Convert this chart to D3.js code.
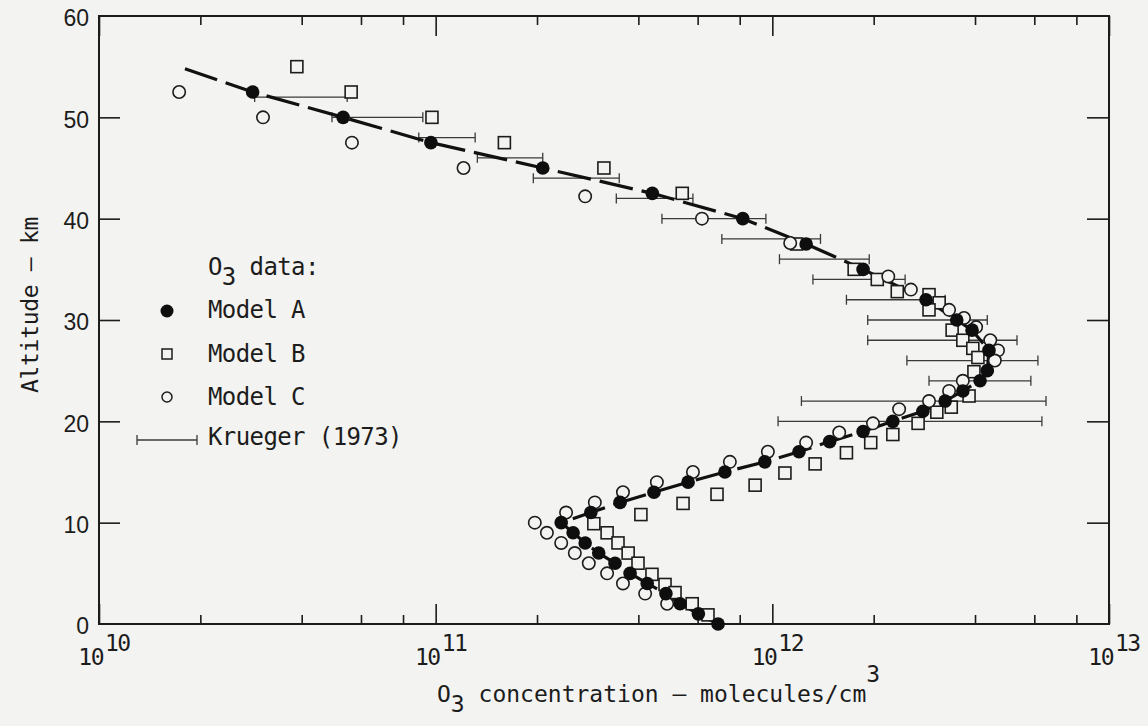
<!DOCTYPE html>
<html>
<head>
<meta charset="utf-8">
<script src="https://cdn.jsdelivr.net/npm/d3@7/dist/d3.min.js"></script>
<style>
  html, body { margin: 0; padding: 0; background: #f3f3f1; }
  svg { display: block; }
  .mono { font-family: "DejaVu Sans Mono", monospace; fill: #1c1c1c; }
  .sans { font-family: "Liberation Sans", Arial, sans-serif; fill: #1c1c1c; }
</style>
</head>
<body>
<svg id="chart" width="1148" height="726"></svg>
<script>
// [altitude km, O3 concentration molecules/cm^3]
var modelA = [
  [52.5, 2.86e10], [50, 5.31e10], [47.5, 9.68e10], [45, 2.08e11], [42.5, 4.40e11],
  [40, 8.17e11], [37.5, 1.26e12], [35, 1.86e12], [32, 2.86e12], [30, 3.53e12],
  [29, 3.92e12], [27, 4.40e12], [25, 4.35e12], [24, 4.14e12], [23, 3.68e12],
  [22, 3.26e12], [21, 2.80e12], [20, 2.28e12], [19, 1.86e12], [18, 1.48e12],
  [17, 1.20e12], [16, 9.5e11], [15, 7.23e11], [14, 5.62e11], [13, 4.45e11],
  [12, 3.53e11], [11, 2.89e11], [10, 2.36e11], [9, 2.56e11], [8, 2.78e11],
  [7, 3.05e11], [6, 3.41e11], [5, 3.78e11], [4, 4.25e11], [3, 4.83e11],
  [2, 5.32e11], [1, 6.03e11], [0, 6.90e11]
];
// the dashed curve runs a little past the top model A point
var curveTop = [54.8, 1.80e10];

var modelB = [
  [55, 3.87e10], [52.5, 5.61e10], [50, 9.75e10], [47.5, 1.60e11], [45, 3.16e11],
  [42.5, 5.40e11], [37.5, 1.18e12], [35, 1.75e12], [34, 2.05e12], [32.8, 2.35e12],
  [32.5, 2.92e12], [31.7, 3.13e12], [31, 2.92e12], [29, 3.42e12], [28, 3.68e12],
  [27.2, 3.94e12], [26.3, 4.08e12], [24.9, 3.97e12], [22.5, 3.84e12], [21.4, 3.40e12],
  [20.9, 3.08e12], [19.8, 2.71e12], [18.7, 2.28e12], [17.9, 1.96e12], [16.9, 1.66e12],
  [15.8, 1.34e12], [14.9, 1.09e12], [13.7, 8.89e11], [12.8, 6.85e11], [11.9, 5.43e11],
  [10.8, 4.07e11], [9.9, 2.95e11], [9, 3.23e11], [8, 3.48e11], [7, 3.73e11],
  [6, 3.99e11], [4.9, 4.39e11], [3.9, 4.80e11], [3.1, 5.14e11], [2, 5.78e11],
  [0.9, 6.44e11]
];

var modelC = [
  [52.5, 1.73e10], [50, 3.07e10], [47.5, 5.64e10], [45, 1.21e11], [42.2, 2.78e11],
  [40, 6.18e11], [37.6, 1.13e12], [34.3, 2.21e12], [33, 2.58e12], [31, 3.35e12],
  [30.2, 3.71e12], [29.3, 4.03e12], [28, 4.44e12], [27, 4.68e12], [26, 4.58e12],
  [24, 3.68e12], [23, 3.35e12], [22, 2.92e12], [21.2, 2.38e12], [19.8, 1.99e12],
  [18.9, 1.58e12], [17.9, 1.26e12], [17, 9.7e11], [16, 7.48e11], [15, 5.81e11],
  [14, 4.54e11], [13, 3.60e11], [12, 2.97e11], [11, 2.44e11], [10, 1.97e11],
  [9, 2.14e11], [8, 2.36e11], [7, 2.59e11], [6, 2.85e11], [5, 3.23e11],
  [4, 3.60e11], [3, 4.19e11], [2, 4.87e11]
];

// Krueger (1973): [altitude, low, high]
var krueger = [
  [52, 2.90e10, 5.46e10], [50, 4.92e10, 9.16e10], [48, 8.91e10, 1.31e11],
  [46, 1.33e11, 2.08e11], [44, 1.95e11, 3.51e11], [42, 3.44e11, 5.81e11],
  [40, 4.70e11, 9.57e11], [38, 7.08e11, 1.39e12], [36, 1.05e12, 1.94e12],
  [34, 1.32e12, 2.48e12], [32, 1.66e12, 3.26e12], [30, 1.92e12, 4.35e12],
  [28, 1.92e12, 5.33e12], [26, 2.51e12, 6.15e12], [24, 2.92e12, 5.86e12],
  [22, 1.22e12, 6.50e12], [20, 1.04e12, 6.32e12]
];

var xMajor = [1e10, 1e11, 1e12, 1e13];
var xMajorExp = ["10", "11", "12", "13"];
var xMinor = [2e10, 4e10, 6e10, 8e10, 2e11, 4e11, 6e11, 8e11, 2e12, 4e12, 6e12, 8e12];
var yTicks = [0, 10, 20, 30, 40, 50, 60];
var legendItems = ["Model A", "Model B", "Model C", "Krueger (1973)"];

var plotL = 99, plotR = 1109, plotT = 16, plotB = 624;
var ink = "#1c1c1c", paper = "#f3f3f1";

var svg = d3.select("#chart");

var x = d3.scaleLog().domain([1e10, 1e13]).range([plotL, plotR]);
var y = d3.scaleLinear().domain([0, 60]).range([plotB, plotT]);

// frame
svg.append("rect")
    .attr("x", plotL).attr("y", plotT)
    .attr("width", plotR - plotL).attr("height", plotB - plotT)
    .attr("fill", "none").attr("stroke", ink).attr("stroke-width", 2);

function tidy(g) {
    g.select(".domain").remove();
    g.selectAll(".tick line").attr("stroke", ink).attr("stroke-width", 1.6);
}

// x ticks, all pointing into the plot
svg.append("g").attr("transform", "translate(0," + plotB + ")")
    .call(d3.axisBottom(x).tickValues(xMajor).tickSize(-20).tickFormat(""))
    .call(tidy);
svg.append("g").attr("transform", "translate(0," + plotB + ")")
    .call(d3.axisBottom(x).tickValues(xMinor).tickSize(-9).tickFormat(""))
    .call(tidy);
svg.append("g").attr("transform", "translate(0," + plotT + ")")
    .call(d3.axisTop(x).tickValues(xMajor).tickSize(-20).tickFormat(""))
    .call(tidy);
svg.append("g").attr("transform", "translate(0," + plotT + ")")
    .call(d3.axisTop(x).tickValues(xMinor).tickSize(-9).tickFormat(""))
    .call(tidy);

// y ticks
var yl = svg.append("g").attr("transform", "translate(" + plotL + ",0)")
    .call(d3.axisLeft(y).tickValues(yTicks).tickSize(-21).tickPadding(10))
    .call(tidy);
yl.selectAll(".tick text")
    .attr("class", "sans").attr("font-size", 23).attr("dy", "0.42em");
yl.selectAll(".tick").filter(function (d) { return d === 0 || d === 60; })
    .select("line").remove();
svg.append("g").attr("transform", "translate(" + plotR + ",0)")
    .call(d3.axisRight(y).tickValues(yTicks.slice(1, -1)).tickSize(-22).tickFormat(""))
    .call(tidy);

// x tick labels: 10 with the exponent raised
var xl = svg.append("g").selectAll("g").data(xMajor).enter().append("g")
    .attr("transform", function (d) { return "translate(" + x(d) + "," + 665 + ")"; });
xl.append("text").attr("class", "mono").attr("font-size", 23)
    .attr("letter-spacing", -1.5).attr("text-anchor", "end").attr("x", 4)
    .text("10");
xl.append("text").attr("class", "mono").attr("font-size", 23)
    .attr("letter-spacing", -1.5).attr("x", 6).attr("y", -14)
    .text(function (d, i) { return xMajorExp[i]; });

// axis titles
var xt = svg.append("text").attr("class", "mono").attr("font-size", 23)
    .attr("letter-spacing", 0)
    .attr("x", 437).attr("y", 702);
xt.append("tspan").text("O");
xt.append("tspan").attr("dy", 10).text("3");
xt.append("tspan").attr("dy", -10).text(" concentration \u2014 molecules/cm");
xt.append("tspan").attr("dy", -20).text("3");

svg.append("text").attr("class", "mono").attr("font-size", 23)
    .attr("letter-spacing", -0.3).attr("text-anchor", "middle")
    .attr("transform", "translate(38,305) rotate(-90)")
    .text("Altitude \u2014 km");

// Krueger error bars
var bars = svg.append("g").attr("stroke", "#3a3a3a").attr("stroke-width", 1.3);
bars.selectAll("line.bar").data(krueger).enter().append("line")
    .attr("x1", function (d) { return x(d[1]); })
    .attr("x2", function (d) { return x(d[2]); })
    .attr("y1", function (d) { return y(d[0]); })
    .attr("y2", function (d) { return y(d[0]); });
bars.selectAll("line.capl").data(krueger).enter().append("line")
    .attr("x1", function (d) { return x(d[1]); })
    .attr("x2", function (d) { return x(d[1]); })
    .attr("y1", function (d) { return y(d[0]) - 5; })
    .attr("y2", function (d) { return y(d[0]) + 5; });
bars.selectAll("line.caph").data(krueger).enter().append("line")
    .attr("x1", function (d) { return x(d[2]); })
    .attr("x2", function (d) { return x(d[2]); })
    .attr("y1", function (d) { return y(d[0]) - 5; })
    .attr("y2", function (d) { return y(d[0]) + 5; });

// dashed curve through model A
var curve = [curveTop].concat(modelA);
var line = d3.line()
    .x(function (d) { return x(d[1]); })
    .y(function (d) { return y(d[0]); });
svg.append("path").datum(curve)
    .attr("d", line)
    .attr("fill", "none").attr("stroke", "#111")
    .attr("stroke-width", 3.2)
    .attr("stroke-dasharray", "34,9");

// markers
svg.append("g").selectAll("rect").data(modelB).enter().append("rect")
    .attr("x", function (d) { return x(d[1]) - 6; })
    .attr("y", function (d) { return y(d[0]) - 6; })
    .attr("width", 12).attr("height", 12)
    .attr("fill", paper).attr("stroke", ink).attr("stroke-width", 1.6);

svg.append("g").selectAll("circle").data(modelC).enter().append("circle")
    .attr("cx", function (d) { return x(d[1]); })
    .attr("cy", function (d) { return y(d[0]); })
    .attr("r", 6.2)
    .attr("fill", paper).attr("stroke", ink).attr("stroke-width", 1.6);

svg.append("g").selectAll("circle").data(modelA).enter().append("circle")
    .attr("cx", function (d) { return x(d[1]); })
    .attr("cy", function (d) { return y(d[0]); })
    .attr("r", 6.8)
    .attr("fill", "#0e0e0e");

// legend
var lg = svg.append("g");
var lt = lg.append("text").attr("class", "mono").attr("font-size", 24)
    .attr("letter-spacing", -0.6).attr("x", 208).attr("y", 275);
lt.append("tspan").text("O");
lt.append("tspan").attr("dy", 10).text("3");
lt.append("tspan").attr("dy", -10).text(" data:");

var rowY = [318, 362, 405, 445];
lg.selectAll("text.item").data(legendItems).enter().append("text")
    .attr("class", "mono").attr("font-size", 24).attr("letter-spacing", -0.6)
    .attr("x", 208).attr("y", function (d, i) { return rowY[i]; })
    .text(function (d) { return d; });

lg.append("circle").attr("cx", 167).attr("cy", 311).attr("r", 6.5).attr("fill", "#0e0e0e");
lg.append("rect").attr("x", 162).attr("y", 349).attr("width", 10).attr("height", 10)
    .attr("fill", "none").attr("stroke", ink).attr("stroke-width", 1.5);
lg.append("circle").attr("cx", 167).attr("cy", 397).attr("r", 5)
    .attr("fill", "none").attr("stroke", ink).attr("stroke-width", 1.5);
var lb = lg.append("g").attr("stroke", "#3a3a3a").attr("stroke-width", 1.3);
lb.append("line").attr("x1", 137).attr("x2", 197).attr("y1", 440).attr("y2", 440);
lb.append("line").attr("x1", 137).attr("x2", 137).attr("y1", 435).attr("y2", 445);
lb.append("line").attr("x1", 197).attr("x2", 197).attr("y1", 435).attr("y2", 445);
</script>
</body>
</html>
